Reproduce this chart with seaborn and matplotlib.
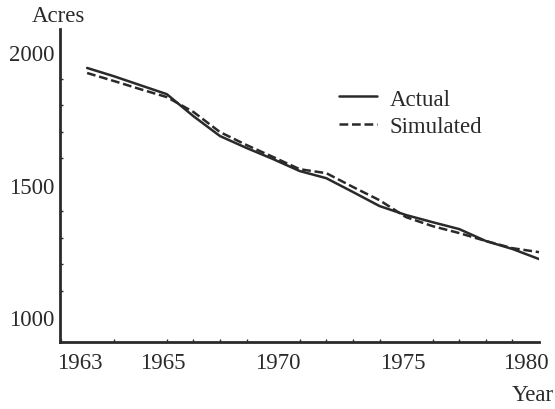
import matplotlib
matplotlib.use("Agg")
import matplotlib.pyplot as plt
import matplotlib.transforms as mtransforms
import seaborn as sns
import pandas as pd
from matplotlib.ticker import MultipleLocator

years = list(range(1963, 1981))
actual = [1940, 1909, 1875, 1841, 1758, 1683, 1638, 1596, 1551, 1524,
          1472, 1419, 1385, 1358, 1332, 1287, 1257, 1219]
simulated = [1921, 1891, 1860, 1830, 1774, 1698, 1649, 1604, 1558, 1543,
             1491, 1441, 1377, 1343, 1317, 1287, 1260, 1245]
series_names = ["Actual", "Simulated"]
x_ticks = [1963, 1965, 1970, 1975, 1980]
y_ticks = [1000, 1500, 2000]

df = pd.DataFrame({
    "Year": years * 2,
    "Acres": actual + simulated,
    "Series": [series_names[0]] * len(years) + [series_names[1]] * len(years),
})

sns.set_style("white")
plt.rcParams["font.family"] = ["Liberation Serif", "DejaVu Serif"]

fig = plt.figure(figsize=(5.55, 4.10), dpi=100)
ax = fig.add_axes([60 / 555, 1 - 343 / 410, 479 / 555, 313 / 410])

ink = "#2a2a2a"
FS = 16.5
sns.lineplot(data=df, x="Year", y="Acres", hue="Series", style="Series",
             palette=[ink, ink], dashes={"Actual": "", "Simulated": (3.5, 1.5)},
             linewidth=1.8, ax=ax, legend=True)

ax.set_xlim(1961.98, 1980.0)
ax.set_ylim(906, 2087)
ax.set_xticks(x_ticks)
ax.set_yticks(y_ticks)
ax.xaxis.set_minor_locator(MultipleLocator(1))
ax.yaxis.set_minor_locator(MultipleLocator(100))
ax.tick_params(axis="both", which="major", labelsize=FS, colors=ink, length=3, width=1.2, pad=1)
ax.tick_params(axis="x", which="major", length=0, pad=7)
ax.tick_params(axis="both", which="minor", direction="in", length=2, width=1, colors=ink)
ax.tick_params(axis="x", which="minor", bottom=True)
ax.tick_params(axis="y", which="minor", left=True)

# typeset label offsets (pixels) as in the printed figure
x_label_shift_px = [-7, 23, 5, -3, -13]
for lab, dx in zip(ax.get_xticklabels(), x_label_shift_px):
    lab.set_transform(lab.get_transform() +
                      mtransforms.ScaledTranslation(dx / 100, 0, fig.dpi_scale_trans))

for s in ["top", "right"]:
    ax.spines[s].set_visible(False)
for s in ["left", "bottom"]:
    ax.spines[s].set_color(ink)
    ax.spines[s].set_linewidth(2)

ax.set_xlabel("")
ax.set_ylabel("")
fig.text(32 / 555, 1 - 16 / 410, "Acres", fontsize=FS, color=ink, va="center", ha="left")
fig.text(554 / 555, 1 - 396 / 410, "Year", fontsize=FS, color=ink, va="center", ha="right")

leg = ax.legend(loc="upper left", bbox_to_anchor=(0.583, 0.81), frameon=False,
                fontsize=FS, handlelength=1.65, handletextpad=0.55, labelspacing=0.3,
                borderpad=0, borderaxespad=0)
for t in leg.get_texts():
    t.set_color(ink)

fig.savefig("out.png", dpi=100, facecolor="white")
